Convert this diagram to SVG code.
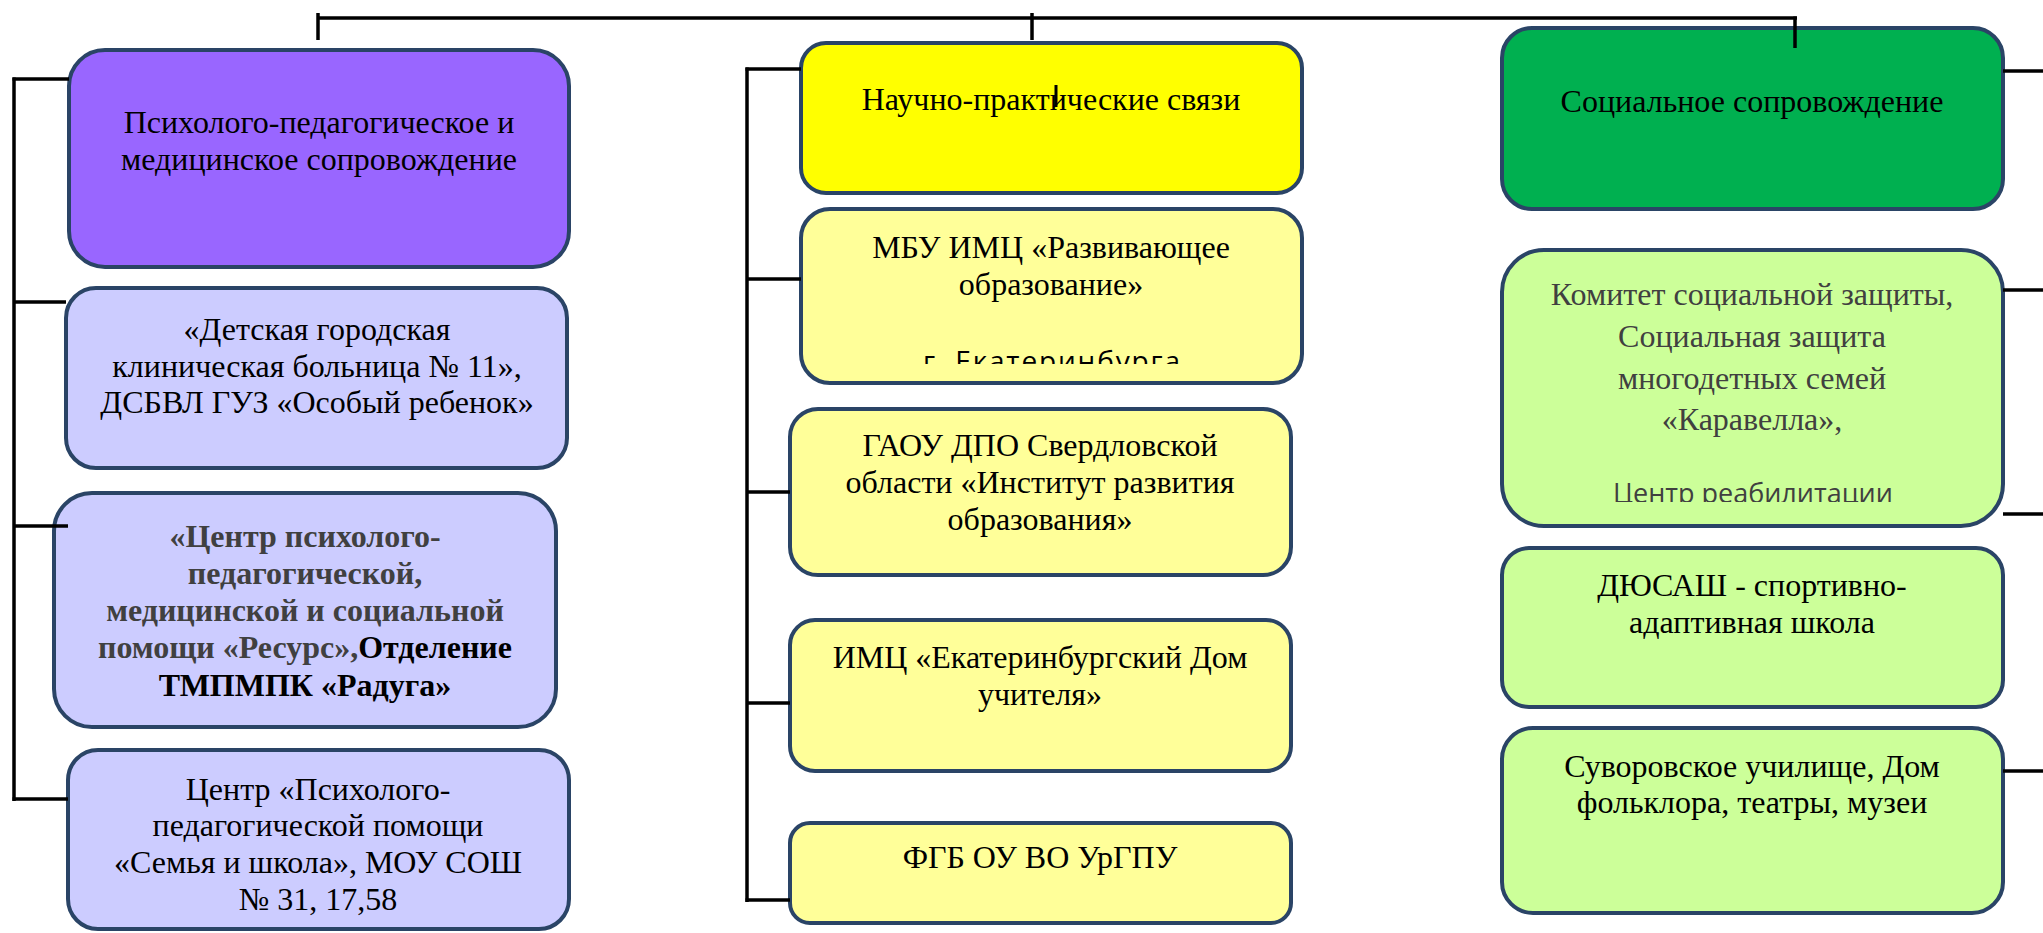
<svg xmlns="http://www.w3.org/2000/svg" width="2043" height="933" viewBox="0 0 2043 933">
<style>
.n rect{stroke:#2A4466;stroke-width:4}
.t{font-family:"Liberation Serif","Times New Roman",serif;font-size:32px;text-anchor:middle;fill:#000}
.g{fill:#404040}
.b{font-weight:bold}
.s{font-family:"Open Sans","Liberation Sans",sans-serif;font-size:27px}
.c line{stroke:#000;stroke-width:3.5;fill:none}
</style>
<defs>
<clipPath id="clipA"><rect x="801" y="209" width="501" height="155"/></clipPath>
<clipPath id="clipB"><rect x="1502" y="250" width="501" height="252"/></clipPath>
</defs>
<rect width="2043" height="933" fill="#FFFFFF"/>

<g id="node-psy" class="n">
<rect x="69" y="50" width="500" height="217" rx="36" fill="#9966FF"/>
<text class="t" x="319" y="133">Психолого-педагогическое и</text>
<text class="t" x="319" y="170">медицинское сопровождение</text>
</g>
<g id="node-dgkb" class="n">
<rect x="66" y="288" width="501" height="180" rx="30" fill="#CCCCFF"/>
<text class="t" x="317" y="340">«Детская городская</text>
<text class="t" x="317" y="377">клиническая больница № 11»,</text>
<text class="t" x="317" y="413">ДСБВЛ ГУЗ «Особый ребенок»</text>
</g>
<g id="node-resurs" class="n">
<rect x="54" y="493" width="502" height="234" rx="38" fill="#CCCCFF"/>
<text class="t b g" x="305" y="547">«Центр психолого-</text>
<text class="t b g" x="305" y="584">педагогической,</text>
<text class="t b g" x="305" y="621">медицинской и социальной</text>
<text class="t b" x="305" y="658"><tspan class="g">помощи «Ресурс»,</tspan>Отделение</text>
<text class="t b" x="305" y="696">ТМПМПК «Радуга»</text>
</g>
<g id="node-semya" class="n">
<rect x="68" y="750" width="501" height="179" rx="30" fill="#CCCCFF"/>
<text class="t" x="318" y="800">Центр «Психолого-</text>
<text class="t" x="318" y="836">педагогической помощи</text>
<text class="t" x="318" y="873">«Семья и школа», МОУ СОШ</text>
<text class="t" x="318" y="910">№ 31, 17,58</text>
</g>

<g id="node-nauch" class="n">
<rect x="801" y="43" width="501" height="150" rx="25" fill="#FFFF00"/>
<text class="t" x="1051" y="110">Научно-практические связи</text>
</g>
<g id="node-mbu" class="n">
<rect x="801" y="209" width="501" height="174" rx="29" fill="#FFFF99"/>
<text class="t" x="1051" y="258">МБУ ИМЦ «Развивающее</text>
<text class="t" x="1051" y="295">образование»</text>
<text class="s" x="1051.5" y="371" text-anchor="middle" style="font-size:28px" textLength="257" lengthAdjust="spacing" clip-path="url(#clipA)">г. Екатеринбурга</text>
</g>
<g id="node-gaou" class="n">
<rect x="790" y="409" width="501" height="166" rx="28" fill="#FFFF99"/>
<text class="t" x="1040" y="456">ГАОУ ДПО Свердловской</text>
<text class="t" x="1040" y="493">области «Институт развития</text>
<text class="t" x="1040" y="530">образования»</text>
</g>
<g id="node-imc" class="n">
<rect x="790" y="620" width="501" height="151" rx="25" fill="#FFFF99"/>
<text class="t" x="1040" y="668">ИМЦ «Екатеринбургский Дом</text>
<text class="t" x="1040" y="705">учителя»</text>
</g>
<g id="node-urgpu" class="n">
<rect x="790" y="823" width="501" height="100" rx="20" fill="#FFFF99"/>
<text class="t" x="1040" y="868">ФГБ ОУ ВО УрГПУ</text>
</g>

<g id="node-soc" class="n">
<rect x="1502" y="28" width="501" height="181" rx="30" fill="#00B050"/>
<text class="t" x="1752" y="112">Социальное сопровождение</text>
</g>
<g id="node-komitet" class="n">
<rect x="1502" y="250" width="501" height="276" rx="42" fill="#CCFF99"/>
<text class="t g" x="1752" y="305">Комитет социальной защиты,</text>
<text class="t g" x="1752" y="347">Социальная защита</text>
<text class="t g" x="1752" y="389">многодетных семей</text>
<text class="t g" x="1752" y="430">«Каравелла»,</text>
<text class="s g" x="1753" y="503" text-anchor="middle" clip-path="url(#clipB)">Центр реабилитации</text>
</g>
<g id="node-dyusash" class="n">
<rect x="1502" y="548" width="501" height="159" rx="27" fill="#CCFF99"/>
<text class="t" x="1752" y="596">ДЮСАШ - спортивно-</text>
<text class="t" x="1752" y="633">адаптивная школа</text>
</g>
<g id="node-suvorov" class="n">
<rect x="1502" y="728" width="501" height="185" rx="31" fill="#CCFF99"/>
<text class="t" x="1752" y="777">Суворовское училище, Дом</text>
<text class="t" x="1752" y="813">фольклора, театры, музеи</text>
</g>

<g id="connectors" class="c">
<line x1="318" y1="18" x2="1797" y2="18"/>
<line x1="318" y1="13" x2="318" y2="40"/>
<line x1="1032" y1="13" x2="1032" y2="40"/>
<line x1="1795" y1="16.5" x2="1795" y2="48"/>
<line x1="14" y1="77.5" x2="14" y2="801"/>
<line x1="12.5" y1="79" x2="69" y2="79"/>
<line x1="14" y1="302" x2="66" y2="302"/>
<line x1="14" y1="526" x2="68" y2="526"/>
<line x1="12.5" y1="799" x2="68" y2="799"/>
<line x1="747" y1="67.5" x2="747" y2="902"/>
<line x1="745.5" y1="69" x2="801" y2="69"/>
<line x1="747" y1="279" x2="801" y2="279"/>
<line x1="747" y1="492" x2="790" y2="492"/>
<line x1="747" y1="703" x2="790" y2="703"/>
<line x1="745.5" y1="900" x2="790" y2="900"/>
<line x1="2003" y1="71" x2="2043" y2="71"/>
<line x1="2003" y1="290" x2="2043" y2="290"/>
<line x1="2003" y1="514" x2="2043" y2="514"/>
<line x1="2003" y1="771" x2="2043" y2="771"/>
<line x1="1056" y1="85" x2="1056" y2="107" style="stroke-width:3"/>
</g>
</svg>
